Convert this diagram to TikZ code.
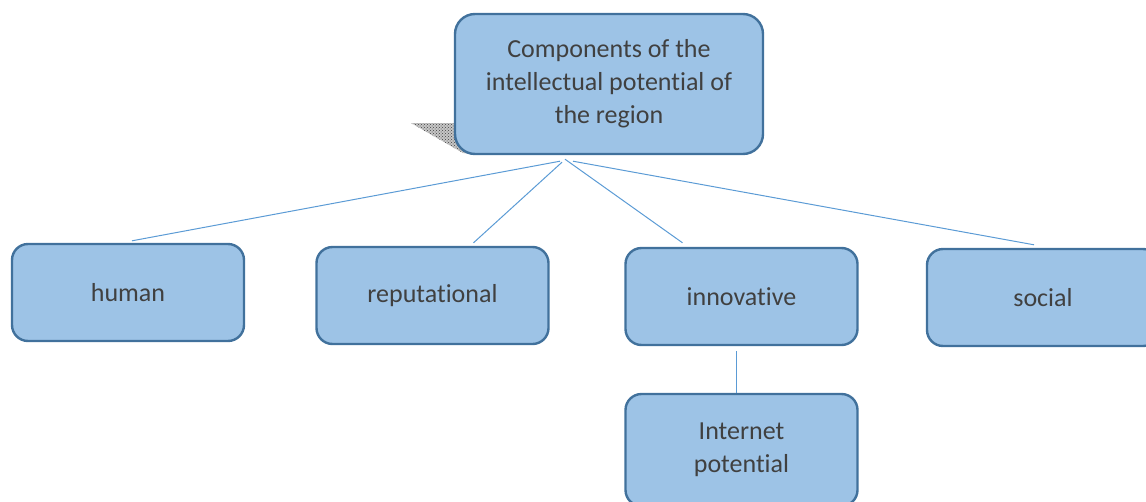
\documentclass[tikz,border=0pt]{standalone}
\usepackage{fontspec}
\setmainfont{Carlito}[Ligatures=NoCommon]
\usetikzlibrary{patterns}
\definecolor{boxfill}{HTML}{9DC3E6}
\definecolor{boxline}{HTML}{41719C}
\definecolor{conn}{HTML}{5B9BD5}
\definecolor{txt}{HTML}{404040}
\begin{document}
\begin{tikzpicture}[x=1pt,y=-1pt,
  box/.style={draw=boxline,line width=2.4pt,fill=boxfill,rounded corners=16pt,
    text=txt,font=\fontsize{26}{33}\selectfont,align=center,inner sep=0pt},
  child/.style={box,minimum width=232pt,minimum height=97pt},
  conn/.style={draw=conn,line width=1pt}]
\useasboundingbox (0,0) rectangle (1146,501);
% shadow
\fill[gray!45] (411,123) -- (470,123) -- (470,153) -- (463,153) -- cycle;
\fill[pattern=crosshatch dots,pattern color=black!75] (411,123) -- (470,123) -- (470,153) -- (463,153) -- cycle;
\node[box,rounded corners=20pt,minimum width=308pt,minimum height=140pt] (top) at (609,84)
  {Components of the\\intellectual potential of\\the region};
\node[child] (human) at (128,292.5) {human};
\node[child] (rep) at (432.5,295.5) {reputational};
\node[child] (inn) at (741.5,296.5) {innovative};
\node[child] (soc) at (1043,297.5) {social};
\node[child,minimum height=112pt] (net) at (741.5,450) {Internet\\potential};
\draw[conn] ([xshift=-49pt,yshift=-6pt]top.south) -- ([xshift=4pt,yshift=2pt]human.north);
\draw[conn] ([xshift=-47pt,yshift=-7pt]top.south) -- ([xshift=41pt,yshift=3pt]rep.north);
\draw[conn] ([xshift=-44pt,yshift=-4pt]top.south) -- ([xshift=-59pt,yshift=4pt]inn.north);
\draw[conn] ([xshift=-36pt,yshift=-6pt]top.south) -- ([xshift=-9pt,yshift=3pt]soc.north);
\draw[conn] ([xshift=-5.5pt,yshift=-5pt]inn.south) -- ([xshift=-5.5pt]net.north);
\end{tikzpicture}
\end{document}
